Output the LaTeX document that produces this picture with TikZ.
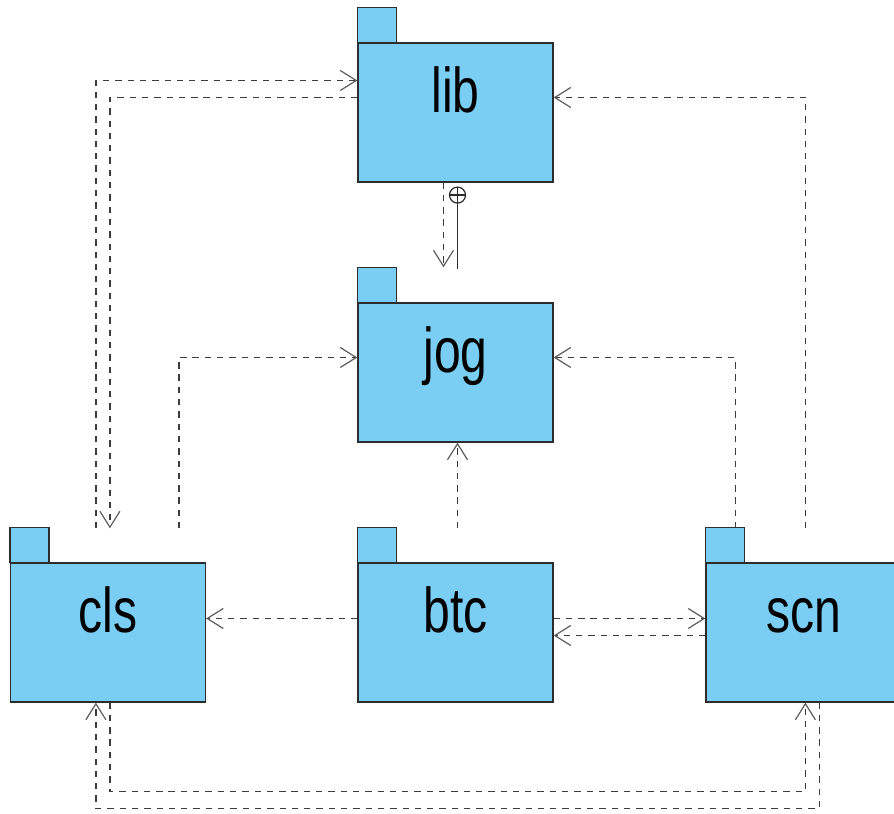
\documentclass[tikz,border=0pt]{standalone}
\usepackage{fontspec}
\newfontfamily\pkgfont[FakeStretch=0.76]{Liberation Sans}
\usetikzlibrary{arrows.meta,calc}
\definecolor{pkgblue}{RGB}{122,206,244}
\definecolor{pkgline}{RGB}{45,45,45}
\definecolor{depline}{RGB}{60,60,60}
\definecolor{tipline}{RGB}{95,95,95}
\tikzset{
  pkg/.style={draw=pkgline, fill=pkgblue, line width=0.7pt, minimum width=3.9cm, minimum height=2.78cm,
    inner sep=0pt, text height=0.4cm, text depth=0.4cm, font=\pkgfont\fontsize{36}{40}\selectfont},
  tab/.style={draw=pkgline, fill=pkgblue, line width=0.7pt},
  dep/.style={draw=depline, line width=0.75pt, dash pattern=on 3.6pt off 3.4pt,
    -{Straight Barb[length=0.32cm,width=0.4cm,line width=0.7pt,color=tipline]}},
}
\begin{document}
\begin{tikzpicture}[x=0.02cm, y=-0.02cm]
			\useasboundingbox (0,0) rectangle (894,814);
			% packages
			\node[pkg] (lib) at (455.5,112.5) {lib};
			\node[pkg] (jog) at (455.5,372.5) {jog};
			\node[pkg] (cls) at (108,632.5) {cls};
			\node[pkg] (btc) at (455.5,632.5) {btc};
			\node[pkg] (scn) at (803.5,632.5) {scn};
			\foreach \p in {lib,jog,cls,btc,scn}
				\draw[tab] (\p.north west) rectangle ++(39,-35);
			% dependencies
			\draw[dep] ($(cls.north west)+(86,-34)$) |- ($(lib.west)+(0,-32)$);
			\draw[dep] ($(lib.west)+(0,-15)$) -| ($(cls.north west)+(100,-34)$);
			\draw[dep] ($(scn.north west)+(100,-34)$) |- ($(lib.east)+(0,-15)$);
			\draw[dep] ($(lib.south)+(-12,0)$) -- ($(jog.north)+(-12,-35)$);
			\draw[dep] ($(cls.north west)+(169,-34)$) |- ($(jog.west)+(0,-15)$);
			\draw[dep] ($(scn.north west)+(30,-34)$) |- ($(jog.east)+(0,-15)$);
			\draw[dep] ($(btc.north)+(2,-34)$) -- ($(jog.south)+(2,0)$);
			\draw[dep] ($(btc.west)+(0,-14)$) -- ($(cls.east)+(0,-14)$);
			\draw[dep] ($(btc.east)+(0,-14)$) -- ($(scn.west)+(0,-14)$);
			\draw[dep] ($(scn.west)+(0,3)$) -- ($(btc.east)+(0,3)$);
			\draw[dep] ($(scn.south west)+(114,0)$) -- ++(0,106) -| ($(cls.south west)+(86,0)$);
			\draw[dep] ($(cls.south west)+(100,0)$) -- ++(0,89) -| ($(scn.south west)+(100,0)$);
			% nesting
			\coordinate (nest) at ($(lib.south)+(2,12.5)$);
			\draw[pkgline, line width=0.7pt] (nest) circle (8);
			\draw[pkgline, line width=0.7pt] ($(nest)+(-8,0)$) -- ($(nest)+(8,0)$);
			\draw[pkgline, line width=0.7pt] ($(nest)+(0,-8)$) -- ($(jog.north)+(2,-33)$);
	\end{tikzpicture}
\end{document}
